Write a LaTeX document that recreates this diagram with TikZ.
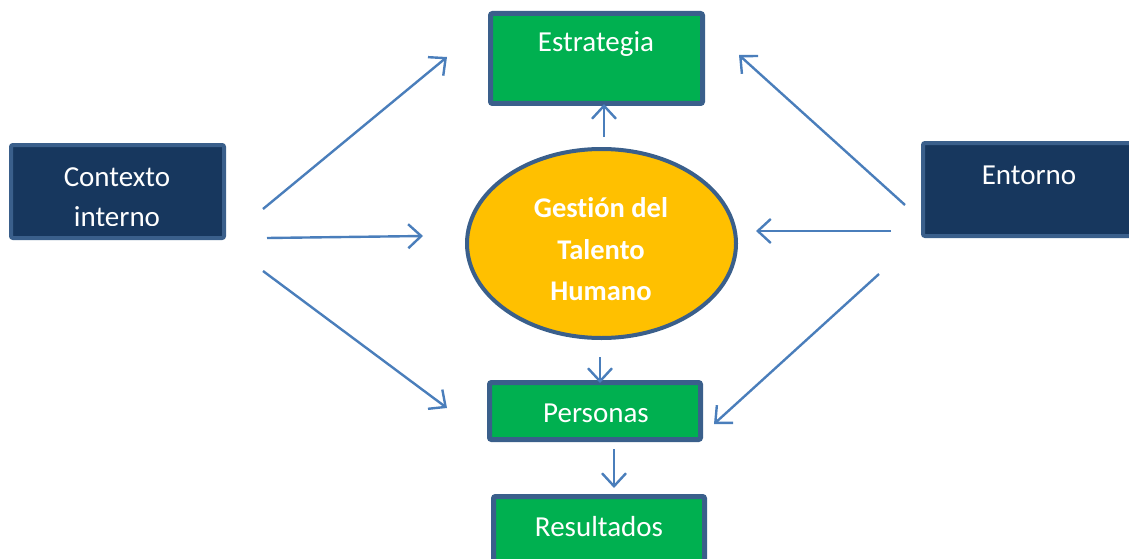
\documentclass[tikz,border=0pt]{standalone}
\usepackage{fontspec}
\setmainfont{Carlito}[Ligatures={NoCommon}]
\usetikzlibrary{arrows.meta,shapes.geometric}
\definecolor{navy}{HTML}{17375E}
\definecolor{bord}{HTML}{3A5F8B}
\definecolor{grn}{HTML}{00B050}
\definecolor{org}{HTML}{FFC000}
\definecolor{arrc}{HTML}{4A7EBB}
\tikzset{
  gbox/.style={draw=bord, fill=grn, line width=5pt, rounded corners=2pt, inner sep=0pt},
  nbox/.style={draw=bord, fill=navy, line width=4pt, rounded corners=2pt, inner sep=0pt},
  lbl/.style={text=white, font=\fontsize{29}{32}\selectfont, inner sep=0pt, anchor=center},
  blbl/.style={text=white, font=\fontsize{28.5}{32}\selectfont\bfseries, inner sep=0pt, anchor=center},
  conn/.style={draw=arrc, line width=2.4pt, -{Straight Barb[length=13pt,width=24pt]}},
}
\begin{document}
\begin{tikzpicture}[x=1pt,y=-1pt]
\useasboundingbox (0,0) rectangle (1129,559);
\clip (0,0) rectangle (1129,559);
% boxes
\node[gbox, minimum width=212pt, minimum height=90pt] (estr) at (596.5,58.5) {};
\node[nbox, minimum width=213pt, minimum height=93pt] (ctx) at (117.5,191.5) {};
\node[nbox, minimum width=214pt, minimum height=93pt] (ent) at (1030,189.5) {};
\node[gbox, minimum width=211pt, minimum height=57pt] (pers) at (595,411) {};
\node[gbox, minimum width=211pt, minimum height=71pt] (res) at (599,532) {};
\node[ellipse, draw=bord, fill=org, line width=4pt, inner sep=0pt, minimum width=269pt, minimum height=189pt] (gth) at (601.5,243.5) {};
% labels
\node[lbl] (estrT) at (596,44) {Estrategia};
\begin{scope}
\clip (9,143) rectangle (226,225);
\node[lbl] (ctxT1) at (117,177) {Contexto};
\node[lbl] (ctxT2) at (117,217) {interno};
\end{scope}
\node[lbl] (entT) at (1029,175) {Entorno};
\node[blbl] (g1) at (601,208) {Gestión del};
\node[blbl] (g2) at (601,250) {Talento};
\node[blbl] (g3) at (601,291) {Humano};
\node[lbl] (persT) at (596,413) {Personas};
\node[lbl] (resT) at (599,527) {Resultados};
% arrow end points
\coordinate (l1s) at (263,209); \coordinate (l1e) at (447,57);
\coordinate (l2s) at (267,238); \coordinate (l2e) at (423,236);
\coordinate (l3s) at (263,271); \coordinate (l3e) at (447,408);
\coordinate (r1s) at (905,205); \coordinate (r1e) at (739,55);
\coordinate (r2s) at (891,231); \coordinate (r2e) at (756,231);
\coordinate (r3s) at (879,274); \coordinate (r3e) at (714,424);
\coordinate (u1s) at (604,137); \coordinate (u1e) at (604,104);
\coordinate (d1s) at (600,357); \coordinate (d1e) at (600,383);
\coordinate (d2s) at (614,449); \coordinate (d2e) at (614,488);
\draw[conn] (l1s) -- (l1e);
\draw[conn] (l2s) -- (l2e);
\draw[conn] (l3s) -- (l3e);
\draw[conn] (r1s) -- (r1e);
\draw[conn] (r2s) -- (r2e);
\draw[conn] (r3s) -- (r3e);
\draw[conn] (u1s) -- (u1e);
\draw[conn] (d1s) -- (d1e);
\draw[conn] (d2s) -- (d2e);
\end{tikzpicture}
\end{document}
